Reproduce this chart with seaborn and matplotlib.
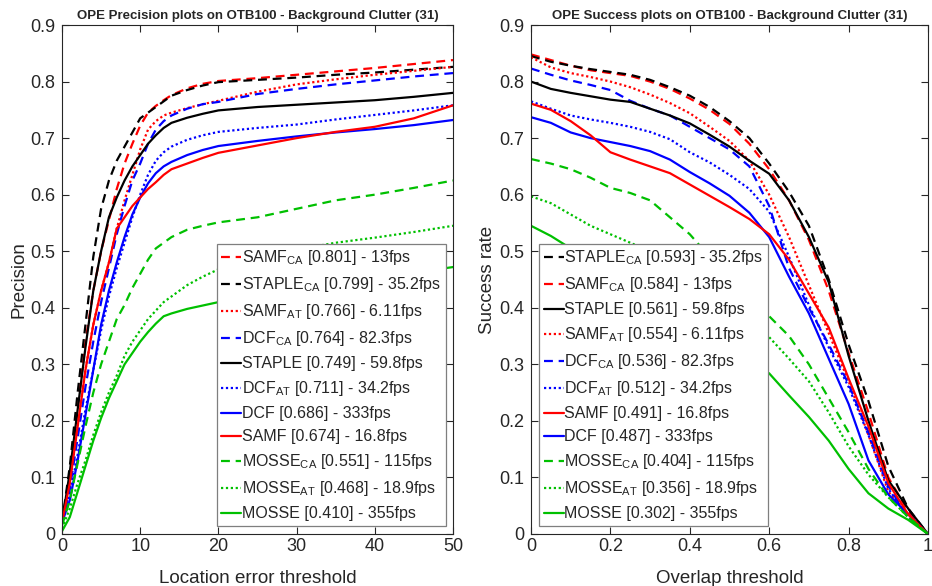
import numpy as np
import pandas as pd
import seaborn as sns
import matplotlib
matplotlib.use('Agg')
import matplotlib.pyplot as plt

# ---- data ----
prec_x = [0, 1, 2, 3, 4, 5, 6, 7, 8, 9, 10, 11, 12, 13, 14, 16, 18, 20, 25, 30, 35, 40, 45, 50]

prec_samf_ca = [0.02, 0.10, 0.22, 0.34, 0.43, 0.50, 0.555, 0.61, 0.655, 0.69, 0.722, 0.745, 0.757, 0.767, 0.776, 0.788, 0.796, 0.801, 0.806, 0.812, 0.818, 0.824, 0.831, 0.838]
prec_staple_ca = [0.02, 0.12, 0.25, 0.37, 0.49, 0.575, 0.625, 0.66, 0.685, 0.71, 0.735, 0.745, 0.755, 0.765, 0.775, 0.785, 0.793, 0.799, 0.803, 0.807, 0.812, 0.816, 0.821, 0.826]
prec_samf_at = [0.02, 0.09, 0.19, 0.29, 0.37, 0.43, 0.48, 0.54, 0.59, 0.635, 0.68, 0.715, 0.73, 0.74, 0.745, 0.753, 0.76, 0.766, 0.782, 0.795, 0.804, 0.812, 0.819, 0.826]
prec_dcf_ca = [0.02, 0.08, 0.17, 0.26, 0.34, 0.41, 0.47, 0.53, 0.58, 0.625, 0.655, 0.69, 0.715, 0.73, 0.74, 0.752, 0.76, 0.764, 0.778, 0.787, 0.795, 0.802, 0.809, 0.815]
prec_staple = [0.02, 0.11, 0.22, 0.33, 0.43, 0.50, 0.56, 0.595, 0.625, 0.65, 0.67, 0.69, 0.705, 0.718, 0.727, 0.736, 0.743, 0.749, 0.755, 0.759, 0.763, 0.767, 0.773, 0.780]
prec_dcf_at = [0.02, 0.07, 0.14, 0.22, 0.29, 0.36, 0.42, 0.47, 0.515, 0.56, 0.60, 0.635, 0.66, 0.675, 0.685, 0.697, 0.705, 0.711, 0.718, 0.724, 0.733, 0.741, 0.749, 0.758]
prec_dcf = [0.02, 0.06, 0.13, 0.21, 0.29, 0.37, 0.43, 0.48, 0.525, 0.565, 0.595, 0.62, 0.638, 0.65, 0.658, 0.67, 0.679, 0.686, 0.695, 0.703, 0.71, 0.716, 0.723, 0.732]
prec_samf = [0.02, 0.09, 0.19, 0.29, 0.37, 0.43, 0.48, 0.54, 0.56, 0.58, 0.595, 0.61, 0.622, 0.635, 0.645, 0.655, 0.665, 0.674, 0.687, 0.70, 0.711, 0.72, 0.735, 0.758]
prec_mosse_ca = [0.015, 0.06, 0.125, 0.19, 0.25, 0.30, 0.34, 0.38, 0.405, 0.435, 0.46, 0.485, 0.505, 0.515, 0.525, 0.538, 0.545, 0.551, 0.56, 0.575, 0.59, 0.60, 0.612, 0.625]
prec_mosse_at = [0.01, 0.045, 0.09, 0.13, 0.175, 0.215, 0.25, 0.28, 0.315, 0.34, 0.36, 0.38, 0.395, 0.41, 0.42, 0.44, 0.455, 0.468, 0.49, 0.503, 0.515, 0.524, 0.534, 0.545]
prec_mosse = [0.005, 0.03, 0.075, 0.12, 0.165, 0.205, 0.24, 0.27, 0.30, 0.32, 0.34, 0.357, 0.372, 0.385, 0.39, 0.398, 0.404, 0.41, 0.42, 0.43, 0.44, 0.452, 0.462, 0.472]

succ_x = [0, 0.05, 0.1, 0.15, 0.2, 0.25, 0.3, 0.35, 0.4, 0.45, 0.5, 0.55, 0.6, 0.65, 0.7, 0.75, 0.8, 0.85, 0.9, 0.95, 1.0]

succ_staple_ca = [0.845, 0.835, 0.828, 0.822, 0.817, 0.812, 0.803, 0.79, 0.775, 0.755, 0.73, 0.70, 0.655, 0.605, 0.545, 0.45, 0.335, 0.235, 0.12, 0.045, 0.0]
succ_samf_ca = [0.848, 0.838, 0.828, 0.82, 0.815, 0.81, 0.80, 0.787, 0.77, 0.75, 0.725, 0.69, 0.645, 0.59, 0.52, 0.43, 0.32, 0.215, 0.10, 0.04, 0.0]
succ_staple = [0.80, 0.787, 0.78, 0.774, 0.768, 0.764, 0.752, 0.74, 0.726, 0.706, 0.685, 0.66, 0.637, 0.59, 0.525, 0.445, 0.315, 0.20, 0.095, 0.045, 0.0]
succ_samf_at = [0.843, 0.825, 0.815, 0.808, 0.80, 0.79, 0.777, 0.762, 0.744, 0.72, 0.695, 0.66, 0.60, 0.525, 0.44, 0.355, 0.27, 0.175, 0.075, 0.035, 0.0]
succ_dcf_ca = [0.823, 0.812, 0.802, 0.794, 0.785, 0.766, 0.752, 0.74, 0.72, 0.70, 0.68, 0.65, 0.58, 0.47, 0.40, 0.335, 0.265, 0.18, 0.085, 0.03, 0.0]
succ_dcf_at = [0.765, 0.752, 0.74, 0.733, 0.727, 0.72, 0.711, 0.698, 0.675, 0.657, 0.635, 0.61, 0.57, 0.49, 0.405, 0.33, 0.26, 0.175, 0.08, 0.03, 0.0]
succ_samf = [0.761, 0.75, 0.73, 0.705, 0.675, 0.662, 0.65, 0.638, 0.618, 0.598, 0.578, 0.557, 0.53, 0.485, 0.425, 0.365, 0.275, 0.19, 0.09, 0.035, 0.0]
succ_dcf = [0.737, 0.727, 0.71, 0.70, 0.693, 0.686, 0.677, 0.662, 0.64, 0.62, 0.598, 0.568, 0.525, 0.455, 0.39, 0.31, 0.23, 0.13, 0.07, 0.035, 0.0]
succ_mosse_ca = [0.663, 0.655, 0.645, 0.63, 0.612, 0.603, 0.59, 0.56, 0.53, 0.49, 0.455, 0.42, 0.385, 0.35, 0.30, 0.24, 0.18, 0.115, 0.065, 0.03, 0.0]
succ_mosse_at = [0.597, 0.585, 0.565, 0.545, 0.53, 0.515, 0.50, 0.48, 0.455, 0.43, 0.405, 0.38, 0.348, 0.31, 0.27, 0.215, 0.155, 0.105, 0.065, 0.03, 0.0]
succ_mosse = [0.545, 0.527, 0.505, 0.49, 0.47, 0.45, 0.425, 0.40, 0.37, 0.345, 0.325, 0.305, 0.284, 0.245, 0.207, 0.165, 0.115, 0.072, 0.045, 0.025, 0.0]

# tracker name, subscript, fps, precision score, success score
trackers = [
    ('SAMF', 'CA', '13', 0.801, 0.584),
    ('STAPLE', 'CA', '35.2', 0.799, 0.593),
    ('SAMF', 'AT', '6.11', 0.766, 0.554),
    ('DCF', 'CA', '82.3', 0.764, 0.536),
    ('STAPLE', '', '59.8', 0.749, 0.561),
    ('DCF', 'AT', '34.2', 0.711, 0.512),
    ('DCF', '', '333', 0.686, 0.487),
    ('SAMF', '', '16.8', 0.674, 0.491),
    ('MOSSE', 'CA', '115', 0.551, 0.404),
    ('MOSSE', 'AT', '18.9', 0.468, 0.356),
    ('MOSSE', '', '355', 0.410, 0.302),
]
prec_curves = [prec_samf_ca, prec_staple_ca, prec_samf_at, prec_dcf_ca, prec_staple,
               prec_dcf_at, prec_dcf, prec_samf, prec_mosse_ca, prec_mosse_at, prec_mosse]
succ_curves = [succ_samf_ca, succ_staple_ca, succ_samf_at, succ_dcf_ca, succ_staple,
               succ_dcf_at, succ_dcf, succ_samf, succ_mosse_ca, succ_mosse_at, succ_mosse]

GREEN = '#00c000'
colors = {'SAMF': 'red', 'STAPLE': 'black', 'DCF': 'blue', 'MOSSE': GREEN}
dash_styles = {'CA': (0, (4, 2.6)), 'AT': (0, (1, 1.2)), '': '-'}

sns.set_theme(style='white')
plt.rcParams['font.family'] = ['Liberation Sans', 'DejaVu Sans']
plt.rcParams['mathtext.fontset'] = 'custom'
plt.rcParams['mathtext.rm'] = 'Liberation Sans'
plt.rcParams['mathtext.it'] = 'Liberation Sans'
plt.rcParams['mathtext.default'] = 'rm'

fig = plt.figure(figsize=(9.32, 5.86), dpi=100)
ax1 = fig.add_axes([62 / 932, 52 / 586, 391 / 932, 509 / 586])
ax2 = fig.add_axes([531 / 932, 52 / 586, 397 / 932, 509 / 586])


def label_for(name, sub, fps, score):
    txt = name if not sub else name + r'$_{\mathrm{' + sub + '}}$'
    return f'{txt} [{score:.3f}] - {fps}fps'


def draw(ax, xs, curves, score_idx, order):
    for i, (name, sub, fps, ps, ss) in enumerate(trackers):
        score = ps if score_idx == 0 else ss
        df = pd.DataFrame({'x': xs, 'y': curves[i]})
        sns.lineplot(data=df, x='x', y='y', ax=ax, color=colors[name],
                     linestyle=dash_styles[sub], linewidth=1.6,
                     label=label_for(name, sub, fps, score))
    h, l = ax.get_legend_handles_labels()
    h = [h[k] for k in order]
    l = [l[k] for k in order]
    return h, l


def style_axes(ax, xlim, xticks, xticklabels):
    ax.set_xlim(*xlim)
    ax.set_ylim(0, 0.9)
    ax.set_xticks(xticks)
    ax.set_xticklabels(xticklabels)
    ax.set_yticks(np.arange(0, 0.91, 0.1))
    ax.set_yticklabels(['0'] + [f'{v:.1f}' for v in np.arange(0.1, 0.91, 0.1)])
    ax.tick_params(direction='in', length=5, width=0.8, top=True, right=True,
                   bottom=True, left=True, labelsize=13, colors='#262626')
    ax.tick_params(axis='y', pad=5)
    ax.tick_params(axis='x', pad=3)
    for s in ax.spines.values():
        s.set_visible(True)
        s.set_color('#262626')
        s.set_linewidth(0.8)


h1, l1 = draw(ax1, prec_x, prec_curves, 0, list(range(11)))
h2, l2 = draw(ax2, succ_x, succ_curves, 1, [1, 0, 4, 2, 3, 5, 7, 6, 8, 9, 10])

style_axes(ax1, (0, 50), [0, 10, 20, 30, 40, 50], ['0', '10', '20', '30', '40', '50'])
style_axes(ax2, (0, 1), [0, 0.2, 0.4, 0.6, 0.8, 1.0], ['0', '0.2', '0.4', '0.6', '0.8', '1'])

ax1.set_xlabel('Location error threshold', fontsize=13.5, color='#262626', labelpad=11)
ax1.set_ylabel('Precision', fontsize=13.5, color='#262626', labelpad=2)
ax2.set_xlabel('Overlap threshold', fontsize=13.5, color='#262626', labelpad=11)
ax2.set_ylabel('Success rate', fontsize=13.5, color='#262626', labelpad=2)

ax1.set_title('OPE Precision plots on OTB100 - Background Clutter (31)',
              fontsize=9.5, fontweight='bold', pad=4)
ax2.set_title('OPE Success plots on OTB100 - Background Clutter (31)',
              fontsize=9.5, fontweight='bold', pad=4)

leg_kw = dict(fontsize=11.5, frameon=True, fancybox=False, framealpha=1,
              edgecolor='#7f7f7f', handlelength=1.25, handletextpad=0.05,
              labelspacing=0.5, borderpad=0.3, borderaxespad=0)
leg1 = ax1.legend(h1, l1, loc='lower right', bbox_to_anchor=(0.982, 0.0157), **leg_kw)
leg2 = ax2.legend(h2, l2, loc='lower left', bbox_to_anchor=(0.020, 0.0157), **leg_kw)
for leg in (leg1, leg2):
    leg.get_frame().set_linewidth(0.9)
    for t in leg.get_texts():
        t.set_color('#262626')

fig.savefig('out.png', dpi=100)
